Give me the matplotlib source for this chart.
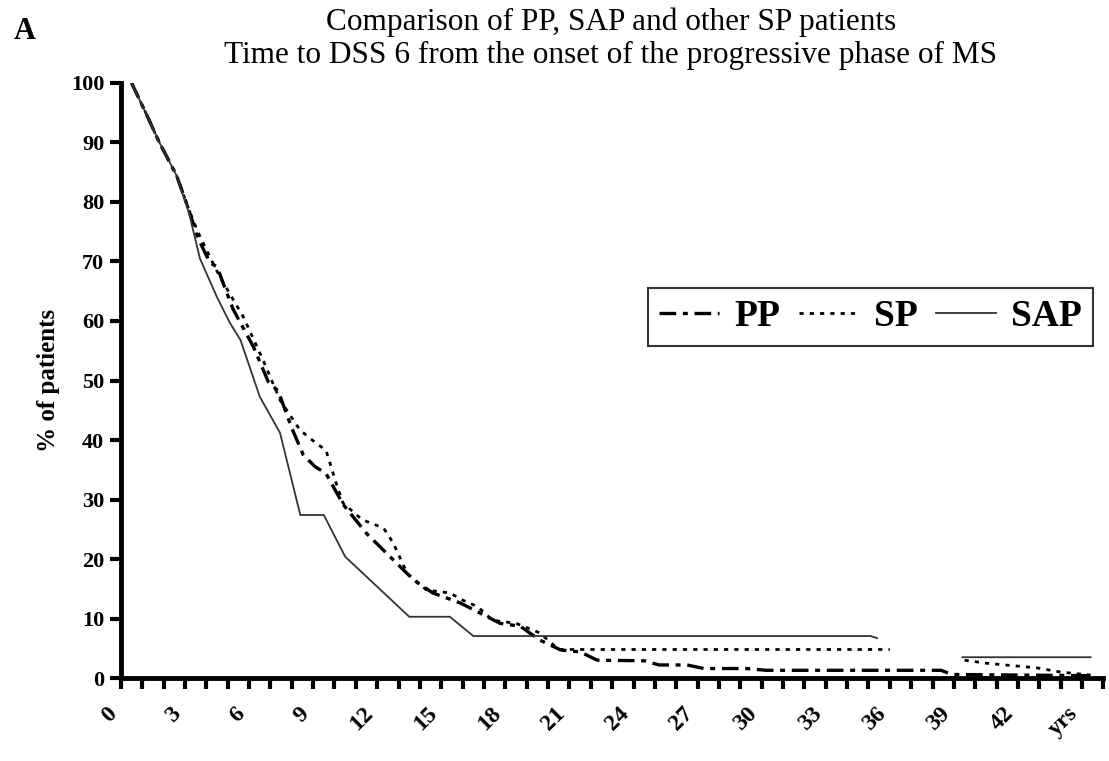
import numpy as np
import matplotlib.pyplot as plt

# ==== Kaplan-Meier style curves: time (years) vs % of patients ====
pp_t = [0.5, 1.2, 1.8, 2.6, 3.15, 3.6, 4.17, 4.5, 5.25, 6.2, 6.9, 7.37, 8.0, 8.54,
        9.1, 9.6, 10.4, 11.5, 12.6, 13.7, 14.6, 15.9, 17.75, 18.7, 19.6, 20.6,
        21.5, 22.3, 24.5, 25.2, 26.5, 27.3, 29.3, 30.2, 38.4, 38.9, 45.4]
pp_v = [100, 94.7, 90, 84.5, 79, 74, 69.8, 69.1, 62, 55.7, 49.8, 48.2, 42, 37.5,
        35.5, 34.4, 29.2, 24.3, 20.4, 16.5, 14.3, 12.6, 9.2, 8.7, 6.4, 4.7,
        4.4, 3.0, 2.9, 2.2, 2.2, 1.6, 1.6, 1.3, 1.3, 0.6, 0.4]

sp_t = [0.5, 1.2, 1.8, 2.6, 3.15, 3.6, 4.2, 4.64, 5.73, 6.66, 7.45, 8.38, 8.85,
        9.24, 9.6, 10.1, 10.4, 11.3, 12.3, 12.75, 13.4, 14.3, 15.4, 16.0, 16.7,
        17.4, 18.5, 19.6, 20.5, 36.0, np.nan, 39.5, 40.5, 42.9, 44.0, 45.4]
sp_v = [100, 94.7, 90, 84.5, 79, 75, 70.5, 67.4, 60.7, 53.4, 46.7, 41.7, 40.3,
        39.2, 38.3, 32.5, 29.4, 26.6, 25.2, 22.7, 17.6, 14.8, 14.3, 13.1, 12.0,
        9.7, 9.2, 7.6, 4.8, 4.8, np.nan, 3.0, 2.5, 1.7, 1.0, 0.5]

sap_t = [0.5, 1.2, 1.8, 2.6, 3.2, 3.7, 4.5, 5.1, 5.6, 6.5, 7.45, 8.4, 9.5, 10.5,
         13.5, 15.4, 16.5, 35.1, 35.4, np.nan, 39.4, 45.4]
sap_v = [100, 94.7, 90, 84.5, 78, 70.5, 64, 59.7, 56.8, 47.3, 41.2, 27.4, 27.4,
         20.4, 10.3, 10.3, 7.06, 7.06, 6.7, np.nan, 3.5, 3.5]

x_ticks = list(range(0, 47))
x_labels = [str(i) if i % 3 == 0 and i < 45 else "" for i in x_ticks]
x_labels[45] = "yrs"
y_ticks = list(range(0, 101, 10))

plt.rcParams['font.family'] = ['Liberation Serif', 'DejaVu Serif']

fig = plt.figure(figsize=(11.09, 7.61), dpi=100)
ax = fig.add_axes([0.109, 0.109, 0.886, 0.782])

ax.plot(pp_t, pp_v, color='black', lw=2.4, dashes=(5, 2, 1.5, 2), label='PP')
ax.plot(sp_t, sp_v, color='black', lw=2.0, dashes=(1.5, 2.2), label='SP')
ax.plot(sap_t, sap_v, color='#333333', lw=1.3, label='SAP')

ax.set_xlim(0, 46)
ax.set_ylim(0, 100)
ax.set_xticks(x_ticks)
ax.set_xticklabels(x_labels, rotation=45, ha='right', fontsize=17, fontweight='bold')
ax.set_yticks(y_ticks)
ax.set_yticklabels([str(v) for v in y_ticks], fontsize=16, fontweight='bold')

for s in ['top', 'right']:
    ax.spines[s].set_visible(False)
for s in ['left', 'bottom']:
    ax.spines[s].set_linewidth(3.5)
ax.tick_params(axis='both', direction='out', length=8, width=3)
ax.tick_params(axis='x', pad=10)
ax.tick_params(axis='y', pad=4)

ax.set_ylabel('% of patients', fontsize=18, fontweight='bold', labelpad=8)

leg = ax.legend(loc='center', bbox_to_anchor=(0.763, 0.607), ncol=3,
                prop={'size': 27, 'weight': 'bold'}, frameon=True, fancybox=False,
                edgecolor='black', handlelength=1.6, columnspacing=0.5,
                handletextpad=0.4, borderpad=0.3, borderaxespad=0)
leg.get_frame().set_linewidth(1.5)

fig.text(0.551, 0.971, 'Comparison of PP, SAP and other SP patients',
         ha='center', va='center', fontsize=22.5)
fig.text(0.551, 0.927, 'Time to DSS 6 from the onset of the progressive phase of MS',
         ha='center', va='center', fontsize=22.5)
fig.text(0.022, 0.958, 'A', ha='center', va='center', fontsize=22, fontweight='bold')

fig.savefig('out.png', dpi=100)
